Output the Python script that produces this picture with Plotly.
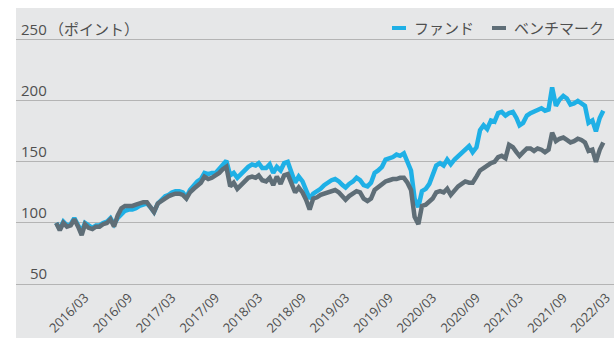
import pandas as pd
import plotly.graph_objects as go

# Semi-monthly observation dates (1st and 16th of each month), 2015-11-01 .. 2022-02-16
months = pd.date_range("2015-11-01", "2022-02-01", freq="MS")
DATES = []
for mo in months:
    DATES.append(mo)
    DATES.append(mo + pd.Timedelta(days=15))

FUND = [
    100, 95, 101, 98, 99, 104, 98, 93, 100, 98, 96, 98,
    98, 100, 101, 104, 99, 104, 107, 110, 111, 111, 112, 114,
    115, 116, 113, 109, 116, 119, 122, 123, 125, 126, 126, 125,
    121, 127, 131, 134, 136, 141, 140, 141, 141, 144, 148, 151,
    139, 141, 137, 140, 143, 146, 148, 147, 149, 145, 145, 148,
    141, 146, 143, 149, 150, 142, 133, 138, 134, 127, 120, 124,
    126, 128, 131, 133, 135, 136, 134, 131, 129, 132, 134, 137,
    135, 131, 130, 133, 141, 143, 146, 152, 153, 154, 156, 155,
    157, 150, 143, 120, 113, 126, 128, 132, 139, 147, 149, 147,
    152, 148, 152, 155, 157, 161, 163, 158, 162, 176, 180, 177,
    184, 183, 190, 191, 188, 190, 191, 186, 180, 182, 188, 190,
    191, 192, 194, 192, 193, 211, 196, 201, 204, 202, 197, 198,
    200, 198, 196, 182, 184, 175, 186, 192,
]

BENCHMARK = [
    100, 94, 100, 97, 98, 103, 97, 90, 99, 96, 95, 97,
    97, 99, 100, 103, 97, 106, 112, 114, 114, 114, 115, 116,
    117, 117, 113, 109, 116, 118, 121, 122, 123, 124, 124, 123,
    120, 125, 128, 131, 133, 138, 136, 137, 139, 141, 144, 146,
    130, 133, 128, 131, 134, 137, 138, 137, 139, 135, 134, 137,
    131, 138, 132, 139, 140, 133, 125, 129, 125, 119, 111, 120,
    121, 123, 124, 125, 126, 127, 125, 122, 119, 122, 124, 126,
    125, 120, 118, 120, 127, 129, 132, 134, 135, 136, 136, 137,
    137, 133, 127, 105, 99, 114, 115, 118, 120, 125, 126, 125,
    128, 123, 127, 130, 132, 134, 133, 133, 138, 143, 145, 147,
    149, 150, 154, 155, 153, 164, 162, 158, 155, 158, 161, 161,
    159, 161, 160, 158, 160, 174, 167, 169, 170, 168, 166, 167,
    169, 168, 166, 159, 160, 150, 160, 166,
]

assert len(DATES) == len(FUND) == len(BENCHMARK)

SERIES_NAMES = ["ファンド", "ベンチマーク"]
Y_TICKS = [50, 100, 150, 200, 250]
Y_UNIT = "（ポイント）"
X_TICKS = ["2016-03-01", "2016-09-01", "2017-03-01", "2017-09-01", "2018-03-01",
           "2018-09-01", "2019-03-01", "2019-09-01", "2020-03-01", "2020-09-01",
           "2021-03-01", "2021-09-01", "2022-03-01"]
X_TICK_TEXT = [pd.Timestamp(t).strftime("%Y/%m") for t in X_TICKS]

BLUE = "#1fb0e6"
SLATE = "#5f6e77"
BG = "#e6e7e8"
GRID = "#b4b4b4"
TEXT = "#4f4f4f"
FONT = "Open Sans, Noto Sans CJK JP, sans-serif"

W, H = 614, 338
L, R, T, B = 16, 0, 8, 54
PW, PH = W - L - R, H - T - B


def px(xp):
    return (xp - L) / PW


def py(yp):
    return (H - B - yp) / PH


fig = go.Figure()
fig.add_trace(go.Scatter(x=DATES, y=FUND, mode="lines", name=SERIES_NAMES[0],
                         line=dict(color=BLUE, width=4.5)))
fig.add_trace(go.Scatter(x=DATES, y=BENCHMARK, mode="lines", name=SERIES_NAMES[1],
                         line=dict(color=SLATE, width=4.5)))

annotations = []
for v in Y_TICKS:
    annotations.append(dict(x=px(49), xref="paper", y=v, yref="y", text=str(v),
                            xanchor="right", yanchor="bottom", yshift=-1,
                            showarrow=False, font=dict(size=15, color=TEXT, family=FONT)))
annotations.append(dict(x=px(47), xref="paper", y=Y_TICKS[-1], yref="y", text=Y_UNIT,
                        xanchor="left", yanchor="bottom", yshift=-1,
                        showarrow=False, font=dict(size=15, color=TEXT, family=FONT)))

# legend drawn as short dashes with labels in the top-right corner
legend_items = [(392, BLUE, SERIES_NAMES[0]), (492, SLATE, SERIES_NAMES[1])]
shapes = [
    # white margins around the grey panel
    dict(type="rect", xref="paper", yref="paper", x0=px(0), x1=px(W), y0=py(T), y1=py(0),
         fillcolor="white", line=dict(width=0), layer="below"),
    dict(type="rect", xref="paper", yref="paper", x0=px(0), x1=px(L), y0=py(H), y1=py(0),
         fillcolor="white", line=dict(width=0), layer="below"),
]
for x0, col, name in legend_items:
    shapes.append(dict(type="line", xref="paper", yref="paper", x0=px(x0), x1=px(x0 + 14),
                       y0=py(28), y1=py(28), line=dict(color=col, width=4)))
    annotations.append(dict(x=px(x0 + 20), xref="paper", y=py(28), yref="paper", text=name,
                            xanchor="left", yanchor="middle", showarrow=False,
                            font=dict(size=15, color=TEXT, family=FONT)))

fig.update_layout(
    width=W, height=H,
    margin=dict(l=L, r=R, t=T, b=B, pad=0),
    paper_bgcolor=BG, plot_bgcolor=BG,
    showlegend=False,
    font=dict(family=FONT, color=TEXT),
    xaxis=dict(type="date", range=["2015-05-16", "2022-04-02"],
               tickvals=X_TICKS, ticktext=X_TICK_TEXT, tickangle=-45,
               ticklabeloverflow="allow",
               tickfont=dict(size=13, color=TEXT, family=FONT),
               showgrid=False, zeroline=False, ticks="",
               showline=True, linecolor=GRID, linewidth=1),
    yaxis=dict(range=[50, 276.1], tickvals=Y_TICKS, showticklabels=False,
               showgrid=True, gridcolor=GRID, gridwidth=1, zeroline=False, ticks=""),
    annotations=annotations,
    shapes=shapes,
)

fig.write_html("out.html")
